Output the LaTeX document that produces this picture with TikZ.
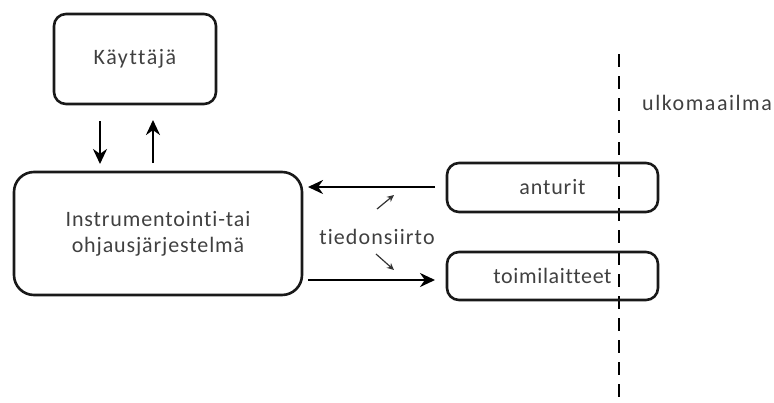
\documentclass[tikz,border=0pt]{standalone}
\usepackage{fontspec}
\setmainfont{Carlito}[Ligatures=NoCommon]
\usetikzlibrary{arrows.meta}
\definecolor{txt}{HTML}{404040}
\newcommand{\txtfont}[1]{\fontsize{22}{27}\selectfont\addfontfeature{LetterSpace=#1}}
\begin{document}
\begin{tikzpicture}[x=1pt,y=-1pt,
  box/.style={draw=black!90,line width=2.6pt,rounded corners=12pt,inner sep=0pt,
    text=txt,align=center},
  flow/.style={line width=2.8pt,-{Stealth[length=15pt,width=14pt]}},
  hint/.style={line width=1.2pt,draw=black!80,-{Stealth[length=7pt,width=6.5pt]}},
  lbl/.style={text=txt,inner sep=0pt}]
\useasboundingbox (0,0) rectangle (774,402);
% system boundary
\draw[line width=2.6pt,dash pattern=on 13pt off 9pt] (619,54) coordinate (b1) -- (619,402) coordinate (b2);
% boxes
\node[box,minimum width=162pt,minimum height=90pt,font=\txtfont{7}] (user) at (135,59) {Käyttäjä};
\node[box,minimum width=288pt,minimum height=123pt,rounded corners=20pt,font=\txtfont{4}] (sys) at (158,233.5)
  {\rule{0pt}{8pt}Instrumentointi-tai\\[-1pt]ohjausjärjestelmä};
\node[box,minimum width=211pt,minimum height=49pt,font=\txtfont{4}] (sens) at (552.5,187.5) {anturit};
\node[box,minimum width=211pt,minimum height=48pt,font=\txtfont{3}] (act) at (552.5,276) {toimilaitteet};
\node[lbl,anchor=west,font=\txtfont{7}] (world) at (642,103) {ulkomaailma};
\node[lbl,font=\txtfont{5}] (link) at (377,237) {tiedonsiirto};
% flows between user and system
\draw[flow] (100,121) -- (100,164);
\draw[flow] (153,163) -- (153,120);
% data transfer flows
\draw[flow] (435,187) -- (308,187);
\draw[flow] (308,280) -- (435,280);
% pointers from the label
\draw[hint] (377,209) -- (394,195);
\draw[hint] (376,254) -- (394,270);
\end{tikzpicture}
\end{document}
